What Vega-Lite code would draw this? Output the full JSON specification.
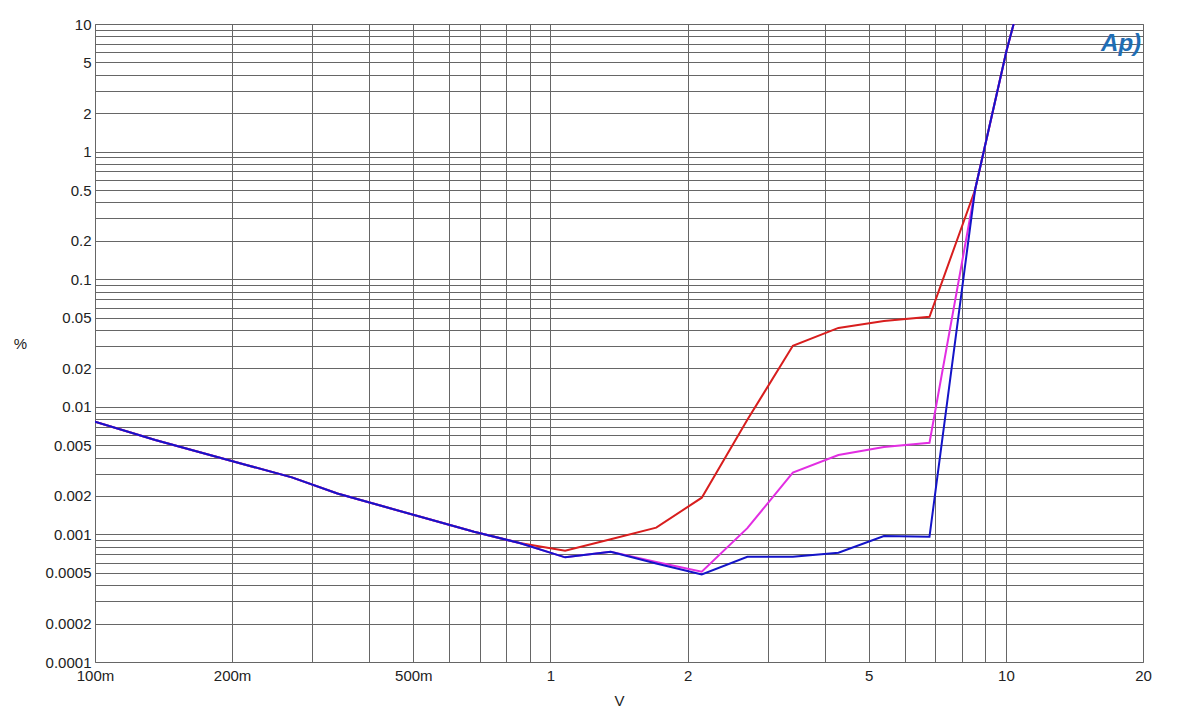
{
  "$schema": "https://vega.github.io/schema/vega-lite/v6.json",
  "width": 1048,
  "height": 638,
  "autosize": "none",
  "padding": {"left": 95, "top": 24, "right": 57, "bottom": 56},
  "background": "white",
  "config": {"view": {"stroke": "#888", "strokeWidth": 1}, "font": "Liberation Sans"},
  "datasets": {
    "red": [
      {"v": 0.1, "thd": 0.00764}, {"v": 0.1356, "thd": 0.0055},
      {"v": 0.1707, "thd": 0.00438}, {"v": 0.2149, "thd": 0.0035}, {"v": 0.2706, "thd": 0.0028},
      {"v": 0.3406, "thd": 0.00209}, {"v": 0.4288, "thd": 0.00166}, {"v": 0.5398, "thd": 0.00132},
      {"v": 0.6796, "thd": 0.00105}, {"v": 0.8555, "thd": 0.000856}, {"v": 1.077, "thd": 0.000745},
      {"v": 1.356, "thd": 0.000917}, {"v": 1.707, "thd": 0.00113}, {"v": 2.149, "thd": 0.00194},
      {"v": 2.706, "thd": 0.0079}, {"v": 3.406, "thd": 0.0301}, {"v": 4.288, "thd": 0.0415},
      {"v": 5.398, "thd": 0.047}, {"v": 6.796, "thd": 0.0508}, {"v": 8.555, "thd": 0.5},
      {"v": 10.04, "thd": 6.25}, {"v": 10.4, "thd": 10}
    ],
    "mag": [
      {"v": 0.1, "thd": 0.00764}, {"v": 0.1356, "thd": 0.0055},
      {"v": 0.1707, "thd": 0.00438}, {"v": 0.2149, "thd": 0.0035}, {"v": 0.2706, "thd": 0.0028},
      {"v": 0.3406, "thd": 0.00209}, {"v": 0.4288, "thd": 0.00166}, {"v": 0.5398, "thd": 0.00132},
      {"v": 0.6796, "thd": 0.00105}, {"v": 0.8555, "thd": 0.000856}, {"v": 1.077, "thd": 0.000661},
      {"v": 1.356, "thd": 0.000732}, {"v": 1.707, "thd": 0.000608}, {"v": 2.149, "thd": 0.00051},
      {"v": 2.706, "thd": 0.00112}, {"v": 3.406, "thd": 0.00305}, {"v": 4.288, "thd": 0.00419},
      {"v": 5.398, "thd": 0.00484}, {"v": 6.796, "thd": 0.00523}, {"v": 8.555, "thd": 0.5},
      {"v": 10.04, "thd": 6.25}, {"v": 10.4, "thd": 10}
    ],
    "blue": [
      {"v": 0.1, "thd": 0.00764}, {"v": 0.1356, "thd": 0.0055},
      {"v": 0.1707, "thd": 0.00438}, {"v": 0.2149, "thd": 0.0035}, {"v": 0.2706, "thd": 0.0028},
      {"v": 0.3406, "thd": 0.00209}, {"v": 0.4288, "thd": 0.00166}, {"v": 0.5398, "thd": 0.00132},
      {"v": 0.6796, "thd": 0.00105}, {"v": 0.8555, "thd": 0.000856}, {"v": 1.077, "thd": 0.000661},
      {"v": 1.356, "thd": 0.000732}, {"v": 1.707, "thd": 0.000592}, {"v": 2.149, "thd": 0.000485},
      {"v": 2.706, "thd": 0.000668}, {"v": 3.406, "thd": 0.000668}, {"v": 4.288, "thd": 0.000719},
      {"v": 5.398, "thd": 0.00097}, {"v": 6.796, "thd": 0.00096}, {"v": 8.555, "thd": 0.5},
      {"v": 10.04, "thd": 6.25}, {"v": 10.4, "thd": 10}
    ],
    "logo": [{"t": "Ap)", "v": 17.9, "thd": 7.0}]
  },
  "layer": [
    {
      "data": {"name": "red"},
      "mark": {"type": "line", "color": "#d81e1e", "strokeWidth": 2, "clip": true},
      "encoding": {
        "x": {
          "field": "v", "type": "quantitative",
          "scale": {"type": "log", "domain": [0.1, 20], "nice": false},
          "axis": {
            "title": "V",
            "values": [0.1, 0.2, 0.3, 0.4, 0.5, 0.6, 0.7, 0.8, 0.9, 1, 2, 3, 4, 5, 6, 7, 8, 9, 10, 20],
            "labelExpr": "datum.value == 0.1 ? '100m' : datum.value == 0.2 ? '200m' : datum.value == 0.5 ? '500m' : indexof([1, 2, 5, 10, 20], datum.value) >= 0 ? '' + datum.value : ''",
            "grid": true, "gridColor": "#666", "gridWidth": 1, "gridOpacity": 1,
            "ticks": false, "domain": false,
            "labelFontSize": 15, "labelColor": "#222", "labelPadding": 6,
            "labelFlush": false, "labelOverlap": false, "labelBound": false,
            "titleFontSize": 15, "titleFontWeight": "normal", "titleColor": "#222", "titlePadding": 10
          }
        },
        "y": {
          "field": "thd", "type": "quantitative",
          "scale": {"type": "log", "domain": [0.0001, 10], "nice": false},
          "axis": {
            "title": "%",
            "values": [0.0001, 0.0002, 0.0003, 0.0004, 0.0005, 0.0006, 0.0007, 0.0008, 0.0009,
                       0.001, 0.002, 0.003, 0.004, 0.005, 0.006, 0.007, 0.008, 0.009,
                       0.01, 0.02, 0.03, 0.04, 0.05, 0.06, 0.07, 0.08, 0.09,
                       0.1, 0.2, 0.3, 0.4, 0.5, 0.6, 0.7, 0.8, 0.9,
                       1, 2, 3, 4, 5, 6, 7, 8, 9, 10],
            "labelExpr": "indexof([0.0001, 0.0002, 0.0005, 0.001, 0.002, 0.005, 0.01, 0.02, 0.05, 0.1, 0.2, 0.5, 1, 2, 5, 10], datum.value) >= 0 ? '' + datum.value : ''",
            "grid": true, "gridColor": "#666", "gridWidth": 1, "gridOpacity": 1,
            "ticks": false, "domain": false,
            "labelFontSize": 15, "labelColor": "#222", "labelPadding": 4,
            "labelFlush": false, "labelOverlap": false, "labelBound": false,
            "titleFontSize": 15, "titleFontWeight": "normal", "titleColor": "#222",
            "titleAngle": 0, "titleX": -75, "titleY": 319, "titleAlign": "center", "titleBaseline": "middle"
          }
        }
      }
    },
    {
      "data": {"name": "mag"},
      "mark": {"type": "line", "color": "#e22ee2", "strokeWidth": 2, "clip": true},
      "encoding": {
        "x": {"field": "v", "type": "quantitative", "scale": {"type": "log", "domain": [0.1, 20], "nice": false}},
        "y": {"field": "thd", "type": "quantitative", "scale": {"type": "log", "domain": [0.0001, 10], "nice": false}}
      }
    },
    {
      "data": {"name": "blue"},
      "mark": {"type": "line", "color": "#1414c8", "strokeWidth": 2, "clip": true},
      "encoding": {
        "x": {"field": "v", "type": "quantitative", "scale": {"type": "log", "domain": [0.1, 20], "nice": false}},
        "y": {"field": "thd", "type": "quantitative", "scale": {"type": "log", "domain": [0.0001, 10], "nice": false}}
      }
    },
    {
      "data": {"name": "logo"},
      "mark": {"type": "text", "font": "Liberation Sans", "fontStyle": "italic", "fontWeight": "bold", "fontSize": 24, "color": "#1f6db4", "align": "center", "baseline": "middle"},
      "encoding": {
        "text": {"field": "t"},
        "x": {"field": "v", "type": "quantitative", "scale": {"type": "log", "domain": [0.1, 20], "nice": false}},
        "y": {"field": "thd", "type": "quantitative", "scale": {"type": "log", "domain": [0.0001, 10], "nice": false}}
      }
    }
  ]
}
